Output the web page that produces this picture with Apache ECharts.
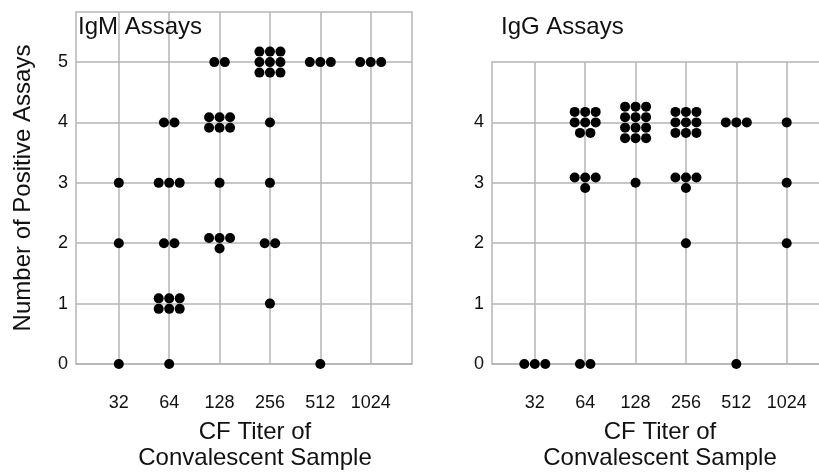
<!DOCTYPE html>
<html>
<head>
<meta charset="utf-8">
<script src="https://cdn.jsdelivr.net/npm/echarts@6/dist/echarts.min.js"></script>
<style>
  html, body { margin: 0; padding: 0; background: #fff; }
  #main { width: 819px; height: 472px; }
</style>
</head>
<body>
<div id="main"></div>
<script>
// CF titer categories on the x axis
var titers = ['32', '64', '128', '256', '512', '1024'];
var tickIdx = [0, 1, 2, 3, 4, 5];

// number of sera per titer, one row per number of positive assays (0,1,2,...)
var igmCounts = [
  [1, 1, 0, 0, 1, 0], // 0
  [0, 6, 0, 1, 0, 0], // 1
  [1, 2, 4, 2, 0, 0], // 2
  [1, 3, 1, 1, 0, 0], // 3
  [0, 2, 6, 1, 0, 0], // 4
  [0, 0, 2, 9, 3, 3]  // 5
];
var iggCounts = [
  [3, 2, 0, 0, 1, 0],  // 0
  [0, 0, 0, 0, 0, 0],  // 1
  [0, 0, 0, 1, 0, 1],  // 2
  [0, 4, 1, 4, 0, 1],  // 3
  [0, 8, 12, 9, 3, 1]  // 4
];

var STEP = 10.5; // px between stacked dots
var FONT = 'Liberation Sans, Arial, sans-serif';
var GRID_COL = '#b5b5b5';

// one point per serum, stacked in rows of 3 around its (titer, count) spot
function toDots(table) {
  var out = [];
  table.forEach(function (row, pos) {
    row.forEach(function (n, ti) {
      var rows = Math.ceil(n / 3);
      for (var k = 0; k < n; k++) {
        var r = Math.floor(k / 3), c = k % 3;
        var inRow = Math.min(3, n - r * 3);
        out.push({
          value: [ti, pos],
          symbolOffset: [(c - (inRow - 1) / 2) * STEP, (r - (rows - 1) / 2) * STEP]
        });
      }
    });
  });
  return out;
}

function xAx(idx, namePad) {
  return {
    type: 'value', gridIndex: idx, min: -0.85, max: 5.82,
    name: 'CF Titer of\nConvalescent Sample', nameLocation: 'middle', nameGap: 55,
    nameTextStyle: { fontFamily: FONT, fontSize: 24, lineHeight: 26, color: '#111', padding: namePad },
    axisLine: { show: false },
    axisTick: { show: false, customValues: tickIdx },
    axisLabel: {
      customValues: tickIdx, margin: 30, fontFamily: FONT, fontSize: 18, color: '#111',
      formatter: function (v) { return titers[v]; }
    },
    splitLine: { show: true, lineStyle: { color: GRID_COL, width: 1.5 } }
  };
}

function yAx(idx, max, labels, name) {
  return {
    type: 'value', gridIndex: idx, min: 0, max: max,
    name: name, nameLocation: 'middle', nameGap: 41,
    nameTextStyle: { fontFamily: FONT, fontSize: 24, color: '#111' },
    axisLine: { show: false },
    axisTick: { show: false, customValues: labels },
    axisLabel: { customValues: labels, margin: 8, fontFamily: FONT, fontSize: 18, color: '#111' },
    splitLine: { show: true, lineStyle: { color: GRID_COL, width: 1.5 } }
  };
}

var chart = echarts.init(document.getElementById('main'));
var option = {
  animation: false,
  backgroundColor: '#fff',
  title: [
    { text: 'IgM Assays', left: 78, top: 15, padding: 0, textStyle: { fontFamily: FONT, fontSize: 24, fontWeight: 'normal', color: '#111' } },
    { text: 'IgG Assays', left: 501, top: 15, padding: 0, textStyle: { fontFamily: FONT, fontSize: 24, fontWeight: 'normal', color: '#111' } }
  ],
  grid: [
    { left: 76, top: 12, width: 336, height: 352, outerBoundsMode: 'none', show: true, borderColor: GRID_COL, borderWidth: 1.5 },
    { left: 492, top: 62, width: 336, height: 302, outerBoundsMode: 'none', show: true, borderColor: GRID_COL, borderWidth: 1.5 }
  ],
  xAxis: [xAx(0, [0, 0, 0, 22]), xAx(1, 0)],
  yAxis: [
    yAx(0, 5.83, [0, 1, 2, 3, 4, 5], 'Number of Positive Assays'),
    yAx(1, 5, [0, 1, 2, 3, 4], '')
  ],
  series: [
    { type: 'scatter', xAxisIndex: 0, yAxisIndex: 0, clip: false, symbolSize: 10,
      itemStyle: { color: '#000', opacity: 1 }, data: toDots(igmCounts) },
    { type: 'scatter', xAxisIndex: 1, yAxisIndex: 1, clip: false, symbolSize: 10,
      itemStyle: { color: '#000', opacity: 1 }, data: toDots(iggCounts) }
  ]
};
chart.setOption(option);
</script>
</body>
</html>
